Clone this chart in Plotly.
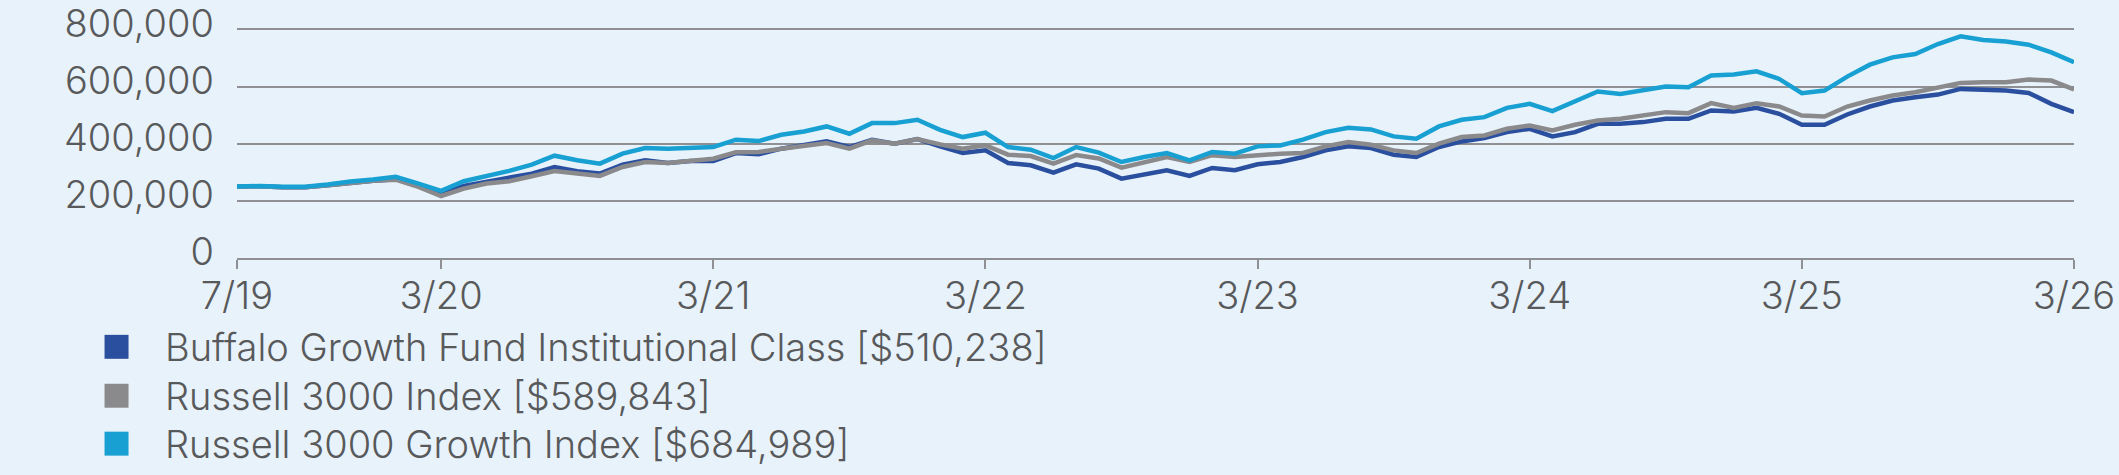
import pandas as pd
import plotly.graph_objects as go

# ---- data (values in USD) ----
months = [d.strftime("%Y-%m") for d in pd.date_range("2019-06-30", "2026-03-31", freq="ME")]

fund = [250000, 251000, 248000, 248000, 255000, 264000, 270000, 276000, 253000, 226000,
        252300, 266300, 277900, 295400, 318600, 303500, 295400, 326700, 341900, 332600,
        339500, 339500, 367400, 362800, 382600, 394200, 408100, 388400, 414000, 400000,
        416300, 390700, 367400, 376700, 332600, 324400, 298800, 328000, 312800, 277900,
        291900, 307000, 287200, 315000, 307000, 328000, 336000, 353500, 376700, 390700,
        385000, 361600, 353500, 388400, 408100, 419800, 440700, 452300, 425600, 440700,
        469800, 469800, 475600, 487200, 487200, 516300, 512800, 525600, 504700, 466300,
        466300, 502300, 530200, 551200, 562800, 572000, 591900, 589500, 586000, 577900,
        539500, 510238]

r3000 = [250000, 251000, 248000, 248000, 255000, 263000, 270000, 274000, 249000, 217000,
         243000, 260500, 268600, 286000, 304700, 295400, 287200, 318600, 336000, 332600,
         341900, 347700, 369800, 371000, 382600, 390700, 402300, 382600, 411600, 400000,
         416300, 397700, 382600, 394200, 361600, 357000, 330200, 360000, 348400, 316300,
         336000, 353500, 336000, 360000, 353500, 360000, 365000, 367400, 390700, 405800,
         396500, 376700, 367400, 400000, 423300, 429100, 452300, 464000, 446500, 466300,
         481400, 487200, 498800, 510500, 507000, 541900, 525600, 541900, 530200, 498800,
         495300, 530200, 551200, 568600, 580200, 597700, 612800, 615100, 615100, 624400,
         621000, 589843]

r3000g = [250000, 252000, 249000, 249000, 257000, 268000, 275000, 284000, 260000, 235000,
          268600, 286000, 304700, 326700, 358100, 341900, 330200, 365100, 384900, 382600,
          384900, 388400, 414000, 409300, 431400, 443000, 460500, 434900, 472100, 472100,
          483700, 448800, 423300, 438400, 388400, 379000, 350000, 388400, 368600, 336000,
          353500, 367400, 341900, 371000, 365000, 390700, 394000, 414000, 440700, 455800,
          450000, 425600, 417400, 460500, 483700, 493000, 525600, 539500, 514000, 547700,
          582600, 574400, 586000, 600000, 597700, 638400, 641900, 653500, 626700, 576700,
          586000, 634900, 676700, 702300, 714000, 748800, 775600, 762800, 758100, 746500,
          719800, 684989]

series_names = ["Buffalo Growth Fund Institutional Class [$510,238]",
                "Russell 3000 Index [$589,843]",
                "Russell 3000 Growth Index [$684,989]"]
series_colors = ["#2b4f9f", "#8a8a8c", "#18a0d3"]

tick_months = ["2019-06", "2020-03", "2021-03", "2022-03", "2023-03", "2024-03", "2025-03", "2026-03"]
tick_labels = ["7/19", "3/20", "3/21", "3/22", "3/23", "3/24", "3/25", "3/26"]
y_ticks = [0, 200000, 400000, 600000, 800000]
y_max = 840000

# ---- layout geometry (pixels) ----
W, H = 2119, 475
L, R, B = 236.5, 2074, 258
T = B - (B - 29) * y_max / 800000   # 800,000 gridline lands at y=29
FONT = "Inter"
TEXT_COLOR = "#58595b"
GRID = "#8e9093"
BG = "#e8f2fa"


def px_x(p):
    return (p - L) / (R - L)


def px_y(p):
    return (B - p) / (B - T)


fig = go.Figure()
for name, vals, col in zip(series_names, [fund, r3000, r3000g], series_colors):
    fig.add_trace(go.Scatter(x=months, y=vals, mode="lines", name=name,
                             line=dict(color=col, width=4.5), showlegend=False))

shapes = []
annotations = []
legend_y = [347, 396, 444]
for name, col, yc in zip(series_names, series_colors, legend_y):
    shapes.append(dict(type="rect", xref="paper", yref="paper",
                       x0=px_x(104), x1=px_x(128), y0=px_y(yc + 12), y1=px_y(yc - 12),
                       fillcolor=col, line=dict(width=0)))
    annotations.append(dict(xref="paper", yref="paper", x=px_x(162), y=px_y(yc),
                            xanchor="left", yanchor="middle", showarrow=False, text=name,
                            font=dict(family=FONT, size=38, weight=300, color=TEXT_COLOR)))

fig.update_layout(
    width=W, height=H,
    margin=dict(l=L, r=W - R, t=T, b=H - B, pad=0, autoexpand=False),
    paper_bgcolor=BG, plot_bgcolor=BG,
    showlegend=False,
    shapes=shapes, annotations=annotations,
    xaxis=dict(type="category", categoryorder="array", categoryarray=months,
               range=[0, len(months) - 1], automargin=False,
               tickmode="array", tickvals=tick_months, ticktext=tick_labels,
               showgrid=False, zeroline=False,
               showline=True, linecolor=GRID, linewidth=1.5,
               ticks="outside", ticklen=9, tickwidth=1.5, tickcolor=GRID,
               ticklabelstandoff=-5,
               tickfont=dict(family=FONT, size=38, weight=300, color=TEXT_COLOR)),
    yaxis=dict(range=[0, y_max], tickmode="array", tickvals=y_ticks, automargin=False,
               tickformat=",", showgrid=True, gridcolor=GRID, gridwidth=1.5,
               zeroline=False, showline=False, ticks="",
               ticklabelstandoff=22, ticklabelshift=-6, ticklabeloverflow="allow",
               tickfont=dict(family=FONT, size=38, weight=300, color=TEXT_COLOR)),
)

fig.write_html("out.html")
